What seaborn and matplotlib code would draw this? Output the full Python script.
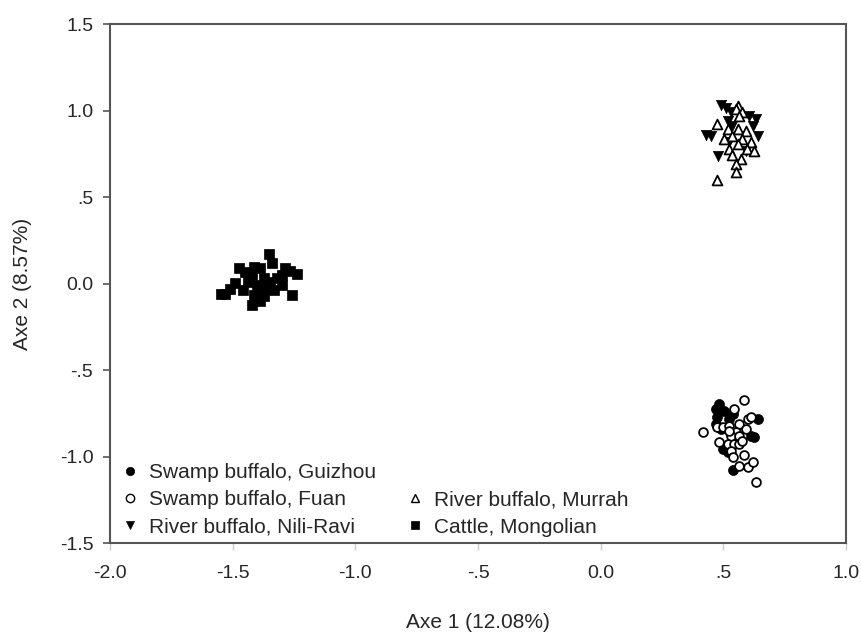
import pandas as pd
import seaborn as sns
import matplotlib.pyplot as plt
from matplotlib.lines import Line2D

# ---------------------------------------------------------
# Data
# ---------------------------------------------------------
guizhou_x = [0.483, 0.503, 0.476, 0.469, 0.490, 0.524, 0.538, 0.640, 0.626, 0.612, 0.497, 0.517, 0.538, 0.469]
guizhou_y = [-0.694, -0.736, -0.774, -0.812, -0.841, -0.783, -0.755, -0.783, -0.889, -0.879, -0.956, -0.975, -1.080, -0.726]

fuan_x = [0.585, 0.544, 0.415, 0.476, 0.497, 0.524, 0.564, 0.599, 0.612, 0.592, 0.551, 0.531, 0.564,
          0.483, 0.517, 0.544, 0.564, 0.531, 0.538, 0.585, 0.564, 0.599, 0.619, 0.633, 0.524, 0.578]
fuan_y = [-0.674, -0.726, -0.860, -0.832, -0.828, -0.822, -0.812, -0.783, -0.774, -0.841, -0.860, -0.879, -0.879,
          -0.918, -0.927, -0.927, -0.927, -0.966, -1.004, -0.994, -1.052, -1.061, -1.033, -1.148, -0.851, -0.908]

murrah_x = [0.558, 0.551, 0.578, 0.476, 0.564, 0.517, 0.558, 0.592, 0.537, 0.503, 0.578,
            0.612, 0.558, 0.524, 0.598, 0.626, 0.537, 0.571, 0.551, 0.551, 0.476]
murrah_y = [1.027, 1.007, 0.989, 0.921, 0.970, 0.893, 0.893, 0.883, 0.855, 0.835, 0.835,
            0.816, 0.806, 0.778, 0.778, 0.768, 0.740, 0.720, 0.691, 0.644, 0.596]

nili_x = [0.490, 0.510, 0.531, 0.429, 0.449, 0.480, 0.619, 0.633, 0.605, 0.640, 0.524, 0.592, 0.537, 0.517]
nili_y = [1.030, 1.017, 0.989, 0.858, 0.855, 0.736, 0.912, 0.950, 0.970, 0.855, 0.816, 0.768, 0.912, 0.941]

cattle_x = [-1.354, -1.340, -1.265, -1.476, -1.415, -1.388, -1.299, -1.490, -1.531, -1.422, -1.258, -1.299,
            -1.333, -1.456, -1.422, -1.374, -1.401, -1.360, -1.415, -1.374, -1.436, -1.347, -1.395, -1.320,
            -1.547, -1.510, -1.449, -1.286, -1.237, -1.388]
cattle_y = [0.168, 0.117, 0.073, 0.092, 0.098, 0.088, 0.050, 0.002, -0.061, -0.122, -0.069, -0.007,
            -0.036, -0.036, 0.050, 0.030, -0.007, -0.027, -0.065, -0.075, 0.011, 0.011, -0.046, 0.030,
            -0.063, -0.029, 0.069, 0.092, 0.057, -0.103]

x_ticks = [-2.0, -1.5, -1.0, -0.5, 0.0, 0.5, 1.0]
x_labels = ["-2.0", "-1.5", "-1.0", "-.5", "0.0", ".5", "1.0"]
y_ticks = [-1.5, -1.0, -0.5, 0.0, 0.5, 1.0, 1.5]
y_labels = ["-1.5", "-1.0", "-.5", "0.0", ".5", "1.0", "1.5"]

# ---------------------------------------------------------
# Plot
# ---------------------------------------------------------
sns.set_style("ticks")
plt.rcParams['font.family'] = ['Liberation Sans', 'DejaVu Sans']

fig = plt.figure(figsize=(8.61, 6.32), dpi=100)
ax = fig.add_axes([0.1278, 0.1408, 0.8548, 0.8212])

# filled groups first, open ones on top
sns.scatterplot(x=guizhou_x, y=guizhou_y, marker='o', s=52, color='black',
                edgecolor='black', linewidth=0.5, ax=ax)
sns.scatterplot(x=nili_x, y=nili_y, marker='v', s=55, color='black',
                edgecolor='black', linewidth=0.5, ax=ax)
sns.scatterplot(x=cattle_x, y=cattle_y, marker='s', s=46, color='black',
                edgecolor='black', linewidth=0.5, ax=ax)
sns.scatterplot(x=fuan_x, y=fuan_y, marker='o', s=40, color='white',
                edgecolor='black', linewidth=1.3, ax=ax)
sns.scatterplot(x=murrah_x, y=murrah_y, marker='^', s=50, color='white',
                edgecolor='black', linewidth=1.3, ax=ax)

ax.set_xlim(-2.0, 1.0)
ax.set_ylim(-1.5, 1.5)
ax.set_xticks(x_ticks)
ax.set_xticklabels(x_labels)
ax.set_yticks(y_ticks)
ax.set_yticklabels(y_labels)
ax.tick_params(axis='x', length=5, width=1, color='#cccccc', pad=11, labelsize=14)
ax.tick_params(axis='y', length=5, width=1.2, color='#555555', pad=7, labelsize=14)

for sp in ax.spines.values():
    sp.set_visible(True)
    sp.set_color('#555555')
    sp.set_linewidth(1.5)

ax.set_xlabel("Axe 1 (12.08%)", fontsize=15, labelpad=22)
ax.set_ylabel("Axe 2 (8.57%)", fontsize=15, labelpad=20)

# legend: two columns, first slot of column two left empty
def mk(marker, face, lw=0.5):
    return Line2D([], [], linestyle='none', marker=marker, markersize=6,
                  markerfacecolor=face, markeredgecolor='black', markeredgewidth=lw)

handles = [mk('o', 'black'), mk('o', 'white', 1.0), mk('v', 'black'),
           Line2D([], [], linestyle='none'), mk('^', 'white', 1.0), mk('s', 'black')]
labels = ["Swamp buffalo, Guizhou", "Swamp buffalo, Fuan", "River buffalo, Nili-Ravi",
          "", "River buffalo, Murrah", "Cattle, Mongolian"]
ax.legend(handles, labels, ncol=2, loc='lower left', bbox_to_anchor=(-0.007, -0.016),
          frameon=False, fontsize=15, handlelength=1.0, handletextpad=0.4,
          labelspacing=0.4, columnspacing=1.4, borderaxespad=0.3)

plt.savefig("out.png", dpi=100)
